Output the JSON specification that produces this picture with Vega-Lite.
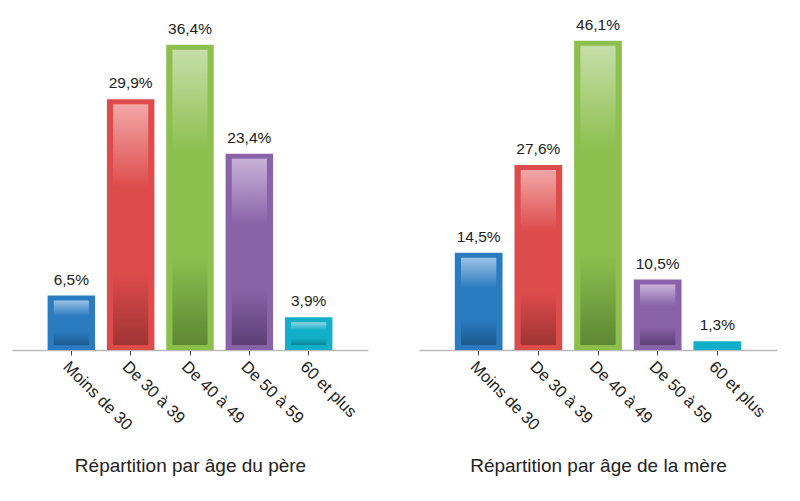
{
  "$schema": "https://vega.github.io/schema/vega-lite/v6.json",
  "background": "white",
  "padding": {"left": 12, "top": 17, "right": 5, "bottom": 5},
  "spacing": 51,
  "datasets": {
    "pere": [
      {"cat": "Moins de 30", "v": 6.5},
      {"cat": "De 30 à 39", "v": 29.9},
      {"cat": "De 40 à 49", "v": 36.4},
      {"cat": "De 50 à 59", "v": 23.4},
      {"cat": "60 et plus", "v": 3.9}
    ],
    "mere": [
      {"cat": "Moins de 30", "v": 14.5},
      {"cat": "De 30 à 39", "v": 27.6},
      {"cat": "De 40 à 49", "v": 46.1},
      {"cat": "De 50 à 59", "v": 10.5},
      {"cat": "60 et plus", "v": 1.3}
    ]
  },
  "config": {
    "view": {"stroke": null},
    "font": "Liberation Sans",
    "axisX": {
      "labelAngle": 45,
      "labelAlign": "left",
      "labelBaseline": "top",
      "labelFontSize": 16.5,
      "labelColor": "#222",
      "labelPadding": 3,
      "domainColor": "#bbbbbb",
      "domainWidth": 1.5,
      "tickColor": "#444",
      "tickSize": 5,
      "titleFontSize": 19,
      "titleFontWeight": "normal",
      "titleColor": "#222",
      "titlePadding": 23
    }
  },
  "resolve": {"scale": {"y": "independent"}},
  "hconcat": [
    {
      "width": 356,
      "height": 332,
      "data": {"name": "pere"},
      "transform": [{"calculate": "replace(format(datum.v, '.1f'), '.', ',') + '%'", "as": "lbl"}],
      "encoding": {
        "x": {"field": "cat", "type": "nominal", "sort": null,
              "scale": {"domain": ["Moins de 30", "De 30 à 39", "De 40 à 49", "De 50 à 59", "60 et plus"], "paddingInner": 0.2, "paddingOuter": 0.6},
              "axis": {"title": "Répartition par âge du père"}},
        "y": {"field": "v", "type": "quantitative", "scale": {"domain": [0, 39.6]}, "axis": null}
      },
      "layer": [
        {"mark": {"type": "bar"},
         "encoding": {"color": {"field": "cat", "type": "nominal", "legend": null,
           "scale": {"domain": ["Moins de 30", "De 30 à 39", "De 40 à 49", "De 50 à 59", "60 et plus"], "range": ["#2A7BC0", "#DE4B4B", "#8CBF4E", "#8A62A8", "#12AFC8"]}}}},
        {"transform": [{"filter": "datum.cat == 'Moins de 30'"}],
         "mark": {"type": "bar", "width": {"band": 0.74}, "yOffset": 5, "y2Offset": -5,
           "fill": {"gradient": "linear", "x1": 0, "y1": 0, "x2": 0, "y2": 1, "stops": [{"offset": 0, "color": "#9CC2E6"}, {"offset": 0.35, "color": "#2A7BC0"}, {"offset": 0.7, "color": "#2A7BC0"}, {"offset": 1, "color": "#1C5A8E"}]}},
         "encoding": {"y2": {"datum": 0}}},
        {"transform": [{"filter": "datum.cat == 'De 30 à 39'"}],
         "mark": {"type": "bar", "width": {"band": 0.74}, "yOffset": 5, "y2Offset": -5,
           "fill": {"gradient": "linear", "x1": 0, "y1": 0, "x2": 0, "y2": 1, "stops": [{"offset": 0, "color": "#F2A7A7"}, {"offset": 0.35, "color": "#DE4B4B"}, {"offset": 0.7, "color": "#DE4B4B"}, {"offset": 1, "color": "#A03434"}]}},
         "encoding": {"y2": {"datum": 0}}},
        {"transform": [{"filter": "datum.cat == 'De 40 à 49'"}],
         "mark": {"type": "bar", "width": {"band": 0.74}, "yOffset": 5, "y2Offset": -5,
           "fill": {"gradient": "linear", "x1": 0, "y1": 0, "x2": 0, "y2": 1, "stops": [{"offset": 0, "color": "#C6DEA8"}, {"offset": 0.35, "color": "#8CBF4E"}, {"offset": 0.7, "color": "#8CBF4E"}, {"offset": 1, "color": "#5E8834"}]}},
         "encoding": {"y2": {"datum": 0}}},
        {"transform": [{"filter": "datum.cat == 'De 50 à 59'"}],
         "mark": {"type": "bar", "width": {"band": 0.74}, "yOffset": 5, "y2Offset": -5,
           "fill": {"gradient": "linear", "x1": 0, "y1": 0, "x2": 0, "y2": 1, "stops": [{"offset": 0, "color": "#C8B2D8"}, {"offset": 0.35, "color": "#8A62A8"}, {"offset": 0.7, "color": "#8A62A8"}, {"offset": 1, "color": "#5C3F74"}]}},
         "encoding": {"y2": {"datum": 0}}},
        {"transform": [{"filter": "datum.cat == '60 et plus'"}],
         "mark": {"type": "bar", "width": {"band": 0.74}, "yOffset": 5, "y2Offset": -5,
           "fill": {"gradient": "linear", "x1": 0, "y1": 0, "x2": 0, "y2": 1, "stops": [{"offset": 0, "color": "#8ED7E4"}, {"offset": 0.35, "color": "#12AFC8"}, {"offset": 0.7, "color": "#12AFC8"}, {"offset": 1, "color": "#0B8597"}]}},
         "encoding": {"y2": {"datum": 0}}},
        {"mark": {"type": "text", "baseline": "bottom", "dy": -8, "fontSize": 15.5, "color": "#222"},
         "encoding": {"text": {"field": "lbl"}}}
      ]
    },
    {
      "width": 358,
      "height": 332,
      "data": {"name": "mere"},
      "transform": [{"calculate": "replace(format(datum.v, '.1f'), '.', ',') + '%'", "as": "lbl"}],
      "encoding": {
        "x": {"field": "cat", "type": "nominal", "sort": null,
              "scale": {"domain": ["Moins de 30", "De 30 à 39", "De 40 à 49", "De 50 à 59", "60 et plus"], "paddingInner": 0.2, "paddingOuter": 0.6},
              "axis": {"title": "Répartition par âge de la mère"}},
        "y": {"field": "v", "type": "quantitative", "scale": {"domain": [0, 49.5]}, "axis": null}
      },
      "layer": [
        {"mark": {"type": "bar"},
         "encoding": {"color": {"field": "cat", "type": "nominal", "legend": null,
           "scale": {"domain": ["Moins de 30", "De 30 à 39", "De 40 à 49", "De 50 à 59", "60 et plus"], "range": ["#2A7BC0", "#DE4B4B", "#8CBF4E", "#8A62A8", "#12AFC8"]}}}},
        {"transform": [{"filter": "datum.cat == 'Moins de 30'"}],
         "mark": {"type": "bar", "width": {"band": 0.74}, "yOffset": 5, "y2Offset": -5,
           "fill": {"gradient": "linear", "x1": 0, "y1": 0, "x2": 0, "y2": 1, "stops": [{"offset": 0, "color": "#9CC2E6"}, {"offset": 0.35, "color": "#2A7BC0"}, {"offset": 0.7, "color": "#2A7BC0"}, {"offset": 1, "color": "#1C5A8E"}]}},
         "encoding": {"y2": {"datum": 0}}},
        {"transform": [{"filter": "datum.cat == 'De 30 à 39'"}],
         "mark": {"type": "bar", "width": {"band": 0.74}, "yOffset": 5, "y2Offset": -5,
           "fill": {"gradient": "linear", "x1": 0, "y1": 0, "x2": 0, "y2": 1, "stops": [{"offset": 0, "color": "#F2A7A7"}, {"offset": 0.35, "color": "#DE4B4B"}, {"offset": 0.7, "color": "#DE4B4B"}, {"offset": 1, "color": "#A03434"}]}},
         "encoding": {"y2": {"datum": 0}}},
        {"transform": [{"filter": "datum.cat == 'De 40 à 49'"}],
         "mark": {"type": "bar", "width": {"band": 0.74}, "yOffset": 5, "y2Offset": -5,
           "fill": {"gradient": "linear", "x1": 0, "y1": 0, "x2": 0, "y2": 1, "stops": [{"offset": 0, "color": "#C6DEA8"}, {"offset": 0.35, "color": "#8CBF4E"}, {"offset": 0.7, "color": "#8CBF4E"}, {"offset": 1, "color": "#5E8834"}]}},
         "encoding": {"y2": {"datum": 0}}},
        {"transform": [{"filter": "datum.cat == 'De 50 à 59'"}],
         "mark": {"type": "bar", "width": {"band": 0.74}, "yOffset": 5, "y2Offset": -5,
           "fill": {"gradient": "linear", "x1": 0, "y1": 0, "x2": 0, "y2": 1, "stops": [{"offset": 0, "color": "#C8B2D8"}, {"offset": 0.35, "color": "#8A62A8"}, {"offset": 0.7, "color": "#8A62A8"}, {"offset": 1, "color": "#5C3F74"}]}},
         "encoding": {"y2": {"datum": 0}}},
        {"transform": [{"filter": "datum.cat == '60 et plus' && datum.v > 2"}],
         "mark": {"type": "bar", "width": {"band": 0.74}, "yOffset": 5, "y2Offset": -5,
           "fill": {"gradient": "linear", "x1": 0, "y1": 0, "x2": 0, "y2": 1, "stops": [{"offset": 0, "color": "#8ED7E4"}, {"offset": 0.35, "color": "#12AFC8"}, {"offset": 0.7, "color": "#12AFC8"}, {"offset": 1, "color": "#0B8597"}]}},
         "encoding": {"y2": {"datum": 0}}},
        {"mark": {"type": "text", "baseline": "bottom", "dy": -8, "fontSize": 15.5, "color": "#222"},
         "encoding": {"text": {"field": "lbl"}}}
      ]
    }
  ]
}
